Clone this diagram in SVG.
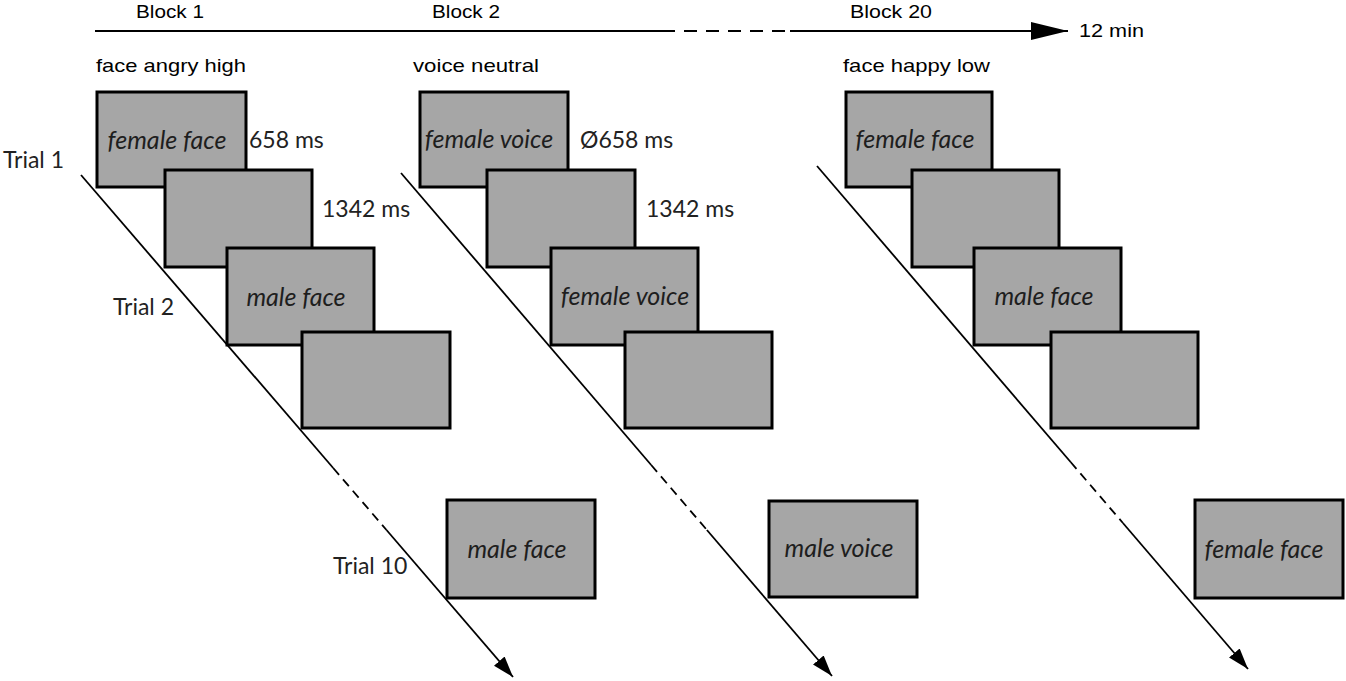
<svg xmlns="http://www.w3.org/2000/svg" width="1346" height="681" viewBox="0 0 1346 681">
<style>
.box rect{fill:#a6a6a6;stroke:#000;stroke-width:3}
.lbl{font-family:Lato,"Open Sans",sans-serif;font-style:italic;font-size:25px;fill:#1e1e1e;text-anchor:middle}
.t{font-family:Lato,"Open Sans",sans-serif;font-size:23px;fill:#222}
.top{font-family:"Liberation Sans",Arial,sans-serif;font-size:19px;fill:#000}
.ln{stroke:#000;stroke-width:1.8;fill:none}
.dl{stroke:#000;stroke-width:1.8;fill:none;stroke-dasharray:9 6}
.tl{stroke:#000;stroke-width:2.2;fill:none}
.tdl{stroke:#000;stroke-width:2.2;fill:none;stroke-dasharray:13 9}
</style>
<defs>
<marker id="ah" markerUnits="userSpaceOnUse" markerWidth="22" markerHeight="16" refX="21" refY="8" orient="auto">
<path d="M0,1 L21,8 L0,15 z" fill="#000"/>
</marker>
<marker id="ahTop" markerUnits="userSpaceOnUse" markerWidth="38" markerHeight="20" refX="37" refY="10" orient="auto">
<path d="M0,1 L37,10 L0,19 z" fill="#000"/>
</marker>
</defs>
<rect width="1346" height="681" fill="#fff"/>

<g id="connectors">
<line class="tl" x1="95" y1="31" x2="662" y2="31"/>
<line class="tdl" x1="662" y1="31" x2="790" y2="31"/>
<line class="tl" x1="790" y1="31" x2="1068" y2="31" marker-end="url(#ahTop)"/>

<line class="ln" x1="81" y1="175" x2="333.2" y2="468"/>
<line class="dl" x1="333.2" y1="468" x2="386.5" y2="530"/>
<line class="ln" x1="386.5" y1="530" x2="513" y2="677" marker-end="url(#ah)"/>

<line class="ln" x1="401" y1="173" x2="651.2" y2="465"/>
<line class="dl" x1="651.2" y1="465" x2="706.9" y2="530"/>
<line class="ln" x1="706.9" y1="530" x2="832" y2="676" marker-end="url(#ah)"/>

<line class="ln" x1="817" y1="166" x2="1070.6" y2="462"/>
<line class="dl" x1="1070.6" y1="462" x2="1122.9" y2="523"/>
<line class="ln" x1="1122.9" y1="523" x2="1248" y2="669" marker-end="url(#ah)"/>
</g>

<g id="top-labels">
<text class="top" x="136" y="18" textLength="68" lengthAdjust="spacingAndGlyphs">Block 1</text>
<text class="top" x="432" y="18" textLength="68" lengthAdjust="spacingAndGlyphs">Block 2</text>
<text class="top" x="850" y="18" textLength="82" lengthAdjust="spacingAndGlyphs">Block 20</text>
<text class="top" x="1079" y="37" textLength="65" lengthAdjust="spacingAndGlyphs">12 min</text>
<text class="top" x="96" y="72" textLength="150" lengthAdjust="spacingAndGlyphs">face angry high</text>
<text class="top" x="413" y="72" textLength="126" lengthAdjust="spacingAndGlyphs">voice neutral</text>
<text class="top" x="843" y="72" textLength="147" lengthAdjust="spacingAndGlyphs">face happy low</text>
</g>

<g id="trial-labels">
<text class="t" x="3" y="168">Trial 1</text>
<text class="t" x="113" y="315">Trial 2</text>
<text class="t" x="333" y="574">Trial 10</text>
<text class="t" x="249" y="148">658 ms</text>
<text class="t" x="322" y="217">1342 ms</text>
<text class="t" x="580" y="148">Ø658 ms</text>
<text class="t" x="646" y="217">1342 ms</text>
</g>

<g id="b1-s1" class="box"><rect x="97" y="92" width="149" height="95"/><text class="lbl" x="167" y="149">female face</text></g>
<g id="b1-s2" class="box"><rect x="165" y="170" width="147" height="97"/></g>
<g id="b1-s3" class="box"><rect x="227" y="248" width="147" height="97"/><text class="lbl" x="296" y="306">male face</text></g>
<g id="b1-s4" class="box"><rect x="302" y="332" width="148" height="96"/></g>
<g id="b1-s10" class="box"><rect x="447" y="500" width="148" height="98"/><text class="lbl" x="517" y="558">male face</text></g>

<g id="b2-s1" class="box"><rect x="420" y="92" width="148" height="95"/><text class="lbl" x="489" y="148">female voice</text></g>
<g id="b2-s2" class="box"><rect x="487" y="170" width="148" height="97"/></g>
<g id="b2-s3" class="box"><rect x="551" y="248" width="147" height="97"/><text class="lbl" x="625" y="305">female voice</text></g>
<g id="b2-s4" class="box"><rect x="625" y="332" width="147" height="96"/></g>
<g id="b2-s10" class="box"><rect x="769" y="501" width="148" height="96"/><text class="lbl" x="839" y="557">male voice</text></g>

<g id="b20-s1" class="box"><rect x="846" y="92" width="146" height="95"/><text class="lbl" x="915" y="148">female face</text></g>
<g id="b20-s2" class="box"><rect x="912" y="170" width="147" height="97"/></g>
<g id="b20-s3" class="box"><rect x="974" y="248" width="147" height="97"/><text class="lbl" x="1044" y="305">male face</text></g>
<g id="b20-s4" class="box"><rect x="1051" y="332" width="147" height="96"/></g>
<g id="b20-s10" class="box"><rect x="1195" y="500" width="148" height="98"/><text class="lbl" x="1264" y="558">female face</text></g>
</svg>
